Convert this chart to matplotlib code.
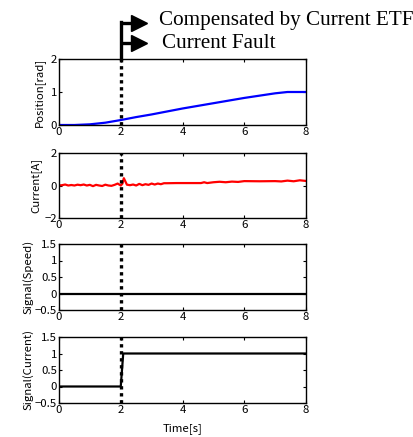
import numpy as np
import matplotlib
matplotlib.use("Agg")
import matplotlib.pyplot as plt
import matplotlib.transforms as mtransforms

plt.rcParams['font.family'] = ['Noto Sans CJK JP', 'DejaVu Sans']
plt.rcParams['font.size'] = 8.2
plt.rcParams['axes.unicode_minus'] = True

# ---- data ----
fault_time = 2.0

t_pos = [0, 0.5, 1.0, 1.5, 2.0, 2.5, 3.0, 3.5, 4.0, 4.5, 5.0, 5.5, 6.0, 6.5, 7.0, 7.4, 8.0]
position = [0, 0, 0.02, 0.07, 0.15, 0.24, 0.32, 0.41, 0.50, 0.58, 0.66, 0.74, 0.82, 0.89, 0.96, 1.0, 1.0]

t_cur = [0, 0.1, 0.2, 0.3, 0.4, 0.5, 0.6, 0.7, 0.8, 0.9, 1.0, 1.1, 1.2, 1.3, 1.4, 1.5,
         1.6, 1.7, 1.8, 1.9, 2.0, 2.05, 2.1, 2.15, 2.2, 2.3, 2.4, 2.5, 2.6, 2.7, 2.8,
         2.9, 3.0, 3.1, 3.2, 3.3, 3.4, 3.5, 3.8, 4.2, 4.6, 4.7, 4.8, 5.0, 5.2, 5.4,
         5.6, 5.8, 6.0, 6.5, 7.0, 7.2, 7.4, 7.6, 7.8, 8.0]
current = [0.0, 0.02, 0.06, 0.0, 0.03, 0.0, 0.05, 0.02, 0.06, 0.0, 0.04, -0.04, 0.04,
           0.0, -0.03, 0.05, 0.0, -0.02, 0.04, 0.12, 0.0, 0.1, 0.45, 0.25, 0.05,
           0.02, 0.06, 0.0, 0.1, 0.02, 0.08, 0.04, 0.12, 0.06, 0.12, 0.08, 0.14,
           0.14, 0.15, 0.15, 0.15, 0.2, 0.15, 0.2, 0.23, 0.2, 0.24, 0.22, 0.27,
           0.26, 0.27, 0.25, 0.3, 0.26, 0.32, 0.28]

t_sig = [0, 2.0, 2.08, 8.0]
signal_speed = [0, 0, 0, 0]
signal_current = [0, 0, 1, 1]

xticks = [0, 2, 4, 6, 8]
sig_ticks = [-0.5, 0, 0.5, 1, 1.5]
sig_ticklabels = ['\u22120.5', '0', '0.5', '1', '1.5']

fig = plt.figure(figsize=(4.13, 4.37), dpi=100)
W, H = 413.0, 437.0
left, right = 59, 306
panels = [(59, 125), (153, 218), (244, 310), (337, 403)]
axes = []
for top, bot in panels:
    ax = fig.add_axes([left / W, 1 - bot / H, (right - left) / W, (bot - top) / H])
    axes.append(ax)

for ax in axes:
    ax.set_xlim(0, 8)
    ax.set_xticks(xticks)
    ax.tick_params(direction='in', top=True, right=True, length=2.5, width=0.8, pad=1.5)
    for s in ax.spines.values():
        s.set_linewidth(1.0)
    ax.axvline(fault_time, color='black', lw=2.4, linestyle=(0, (1, 1.1)), dash_capstyle='butt', zorder=5)

ax1, ax2, ax3, ax4 = axes
ax1.plot(t_pos, position, color='#0000ff', lw=1.6)
ax1.set_ylim(0, 2)
ax1.set_yticks([0, 1, 2])
ax1.set_ylabel('Position[rad]', labelpad=4)

ax2.plot(t_cur, current, color='#ff0000', lw=1.6)
ax2.set_ylim(-2, 2)
ax2.set_yticks([-2, 0, 2])
ax2.set_ylabel('Current[A]', labelpad=2)

ax3.plot(t_sig, signal_speed, color='black', lw=1.6)
ax4.plot(t_sig, signal_current, color='black', lw=1.6)
for ax in (ax3, ax4):
    ax.set_ylim(-0.5, 1.5)
    ax.set_yticks(sig_ticks)
    ax.set_yticklabels(sig_ticklabels)
ax3.set_ylabel('Signal(Speed)', labelpad=1)
ax4.set_ylabel('Signal(Current)', labelpad=1)
ax4.set_xlabel('Time[s]', labelpad=6)

# fault marker above the first panel
tr = mtransforms.blended_transform_factory(ax1.transData, ax1.transAxes)
ax1.plot([fault_time, fault_time], [1.0, 1.56], color='black', lw=2.4, transform=tr, clip_on=False)
for yy in (1.545, 1.242):
    ax1.plot([fault_time, 2.45], [yy, yy], color='black', lw=2.4, transform=tr, clip_on=False,
             solid_capstyle='butt')
    ax1.plot([2.6], [yy], marker='>', markersize=11, color='black', transform=tr, clip_on=False)

ax1.text(3.25, 1.59, 'Compensated by Current ETF', transform=tr, fontsize=15.2,
         family=['Liberation Serif'], va='center', ha='left')
ax1.text(3.35, 1.23, 'Current Fault', transform=tr, fontsize=15.2,
         family=['Liberation Serif'], va='center', ha='left')

plt.savefig('out.png', dpi=100)
